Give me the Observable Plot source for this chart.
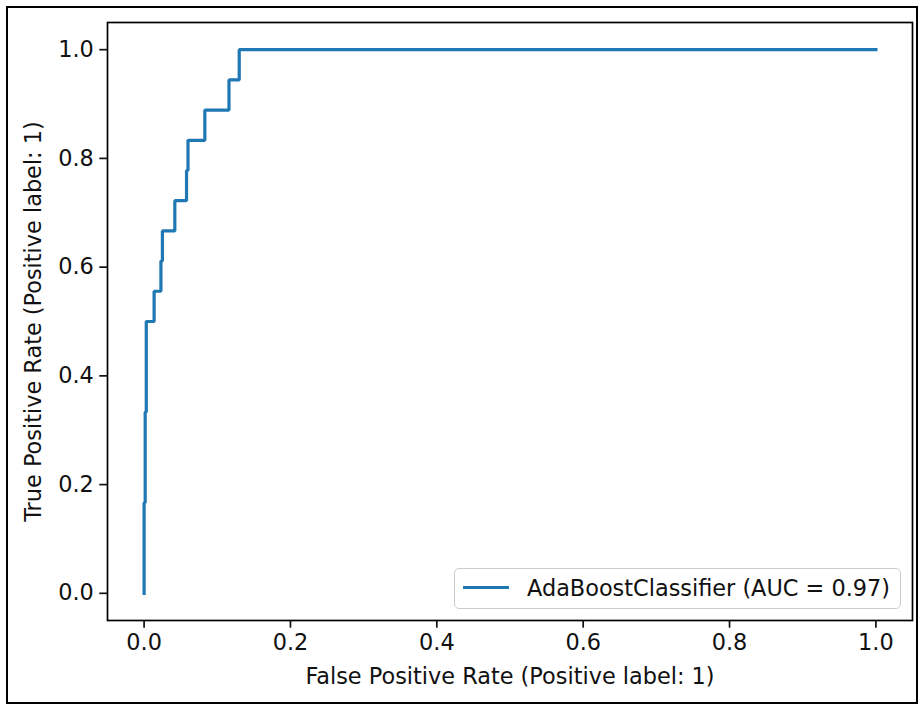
<!DOCTYPE html>
<html>
<head>
<meta charset="utf-8">
<script src="https://cdn.jsdelivr.net/npm/d3@7"></script>
<script src="https://cdn.jsdelivr.net/npm/@observablehq/plot@0.6"></script>
<style>
  html, body { margin: 0; padding: 0; background: #fff; }
  #wrap { position: relative; width: 920px; height: 705px; overflow: hidden; font-family: "DejaVu Sans", sans-serif; }
  #wrap svg { position: absolute; left: 0; top: 0; }
  #border { position: absolute; left: 6px; top: 6px; width: 912px; height: 698px; border: 2px solid #000; box-sizing: border-box; pointer-events: none; }
  #legend { position: absolute; left: 454px; top: 568px; width: 447px; height: 41px; box-sizing: border-box;
            border: 1.5px solid #cccccc; border-radius: 5px; background: rgba(255,255,255,0.8); }
  #legend .sw { position: absolute; left: 8px; top: 17px; width: 46px; height: 3px; }
  #legend .lb { position: absolute; left: 72px; top: 0; line-height: 39px; font-size: 22.4px; color: #111; white-space: nowrap; }
</style>
</head>
<body>
<div id="wrap"></div>
<script>
// ROC curve points
const fpr = [0.000, 0.000, 0.0015, 0.0015, 0.003, 0.003, 0.0137, 0.0137, 0.023, 0.023, 0.025, 0.025, 0.042, 0.042, 0.058, 0.058, 0.060, 0.060, 0.083, 0.083, 0.116, 0.116, 0.130, 0.130, 1.000];
const tpr = [0.000, 0.1667, 0.1667, 0.3333, 0.3333, 0.5000, 0.5000, 0.5556, 0.5556, 0.6111, 0.6111, 0.6667, 0.6667, 0.7222, 0.7222, 0.7778, 0.7778, 0.8333, 0.8333, 0.8889, 0.8889, 0.9444, 0.9444, 1.000, 1.000];

const xTicks = [0.0, 0.2, 0.4, 0.6, 0.8, 1.0];
const yTicks = [0.0, 0.2, 0.4, 0.6, 0.8, 1.0];
const seriesLabel = "AdaBoostClassifier (AUC = 0.97)";
const seriesColor = "#1f77b4";
const xLabel = "False Positive Rate (Positive label: 1)";
const yLabel = "True Positive Rate (Positive label: 1)";

const rows = fpr.map((f, i) => ({fpr: f, tpr: tpr[i]}));
const fmt = d3.format(".1f");

const plot = Plot.plot({
  width: 920,
  height: 705,
  marginLeft: 107,
  marginRight: 8,
  marginTop: 22,
  marginBottom: 85,
  style: { fontFamily: "DejaVu Sans, sans-serif", fontSize: "22.4px", color: "#111", background: "transparent", overflow: "visible" },
  x: { domain: [-0.05, 1.05] },
  y: { domain: [-0.05, 1.05] },
  marks: [
    Plot.line(rows, { x: "fpr", y: "tpr", stroke: seriesColor, strokeWidth: 3.2, strokeLinejoin: "miter", strokeLinecap: "square" }),
    Plot.frame({ stroke: "#000", strokeWidth: 1.7 }),
    Plot.axisX({ ticks: xTicks, tickFormat: fmt, tickSize: 7.7, tickPadding: 6, strokeWidth: 1.7, label: null, fontSize: 22.4 }),
    Plot.axisY({ ticks: yTicks, tickFormat: fmt, tickSize: 7.7, tickPadding: 6, strokeWidth: 1.7, label: null, fontSize: 22.4 }),
    Plot.text([xLabel], { frameAnchor: "bottom", dy: 63, fontSize: 22.4, fill: "#111", textAnchor: "middle" }),
    Plot.text([yLabel], { frameAnchor: "left", dx: -74, rotate: -90, fontSize: 22.4, fill: "#111", textAnchor: "middle" })
  ]
});

const wrap = document.getElementById("wrap");
wrap.appendChild(plot);

const legend = document.createElement("div");
legend.id = "legend";
const sw = document.createElement("div");
sw.className = "sw";
sw.style.background = seriesColor;
const lb = document.createElement("div");
lb.className = "lb";
lb.textContent = seriesLabel;
legend.appendChild(sw);
legend.appendChild(lb);
wrap.appendChild(legend);

const border = document.createElement("div");
border.id = "border";
wrap.appendChild(border);
</script>
</body>
</html>
